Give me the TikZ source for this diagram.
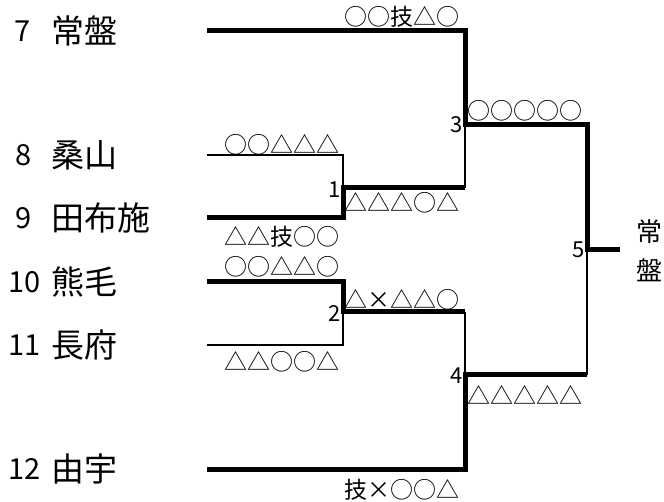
\documentclass[tikz,border=0pt]{standalone}
\usepackage{fontspec}
\setmainfont{Noto Sans CJK JP}
\usetikzlibrary{positioning, calc}

\begin{document}
\begin{tikzpicture}[x=1pt, y=-1pt,
    team/.style={anchor=west, inner sep=0pt, font=\fontsize{33}{33}\selectfont},
    seed/.style={anchor=west, inner sep=0pt, font=\fontsize{29}{29}\selectfont},
    score/.style={inner sep=0pt, font=\fontsize{23}{23}\selectfont},
    mnum/.style={inner sep=0pt, font=\fontsize{22}{22}\selectfont},
    win/.style={line width=5pt},
    lose/.style={line width=1.5pt}]
  \useasboundingbox (0,0) rectangle (664,502);

  \node[seed] (n7) at (14,31) {7};
  \node[seed] (n8) at (15,155) {8};
  \node[seed] (n9) at (15,218) {9};
  \node[seed] (n10) at (8,282) {10};
  \node[seed] (n11) at (8,345) {11};
  \node[seed] (n12) at (8,469) {12};
  \node[team] (t7) at (51,31) {常盤};
  \node[team] (t8) at (51,155) {桑山};
  \node[team] (t9) at (51,218) {田布施};
  \node[team] (t10) at (51,282) {熊毛};
  \node[team] (t11) at (51,345) {長府};
  \node[team] (t12) at (51,469) {由宇};

  \coordinate (p7) at (207,31);
  \coordinate (p8) at (207,155);
  \coordinate (p9) at (207,218);
  \coordinate (p10) at (207,282);
  \coordinate (p11) at (207,345);
  \coordinate (p12) at (207,469);
  \coordinate (m1) at (343,188);
  \coordinate (m2) at (343,312);
  \coordinate (m3) at (465,125);
  \coordinate (m4) at (465,375);
  \coordinate (m5) at (587,250);
  \coordinate (w) at (620,250);

  \draw[lose] (p8) -| (m1);
  \draw[lose] (p11) -| (m2);
  \draw[lose] (m1 -| m3) -- (m3);
  \draw[lose] (m2 -| m4) -- (m4);
  \draw[lose] (m4 -| m5) -- (m5);
  \draw[win] (p7) -| (m3) -| (m5) -- (w);
  \draw[win] (p9) -| (m1) -- (m1 -| m3);
  \draw[win] (p10) -| (m2) -- (m2 -| m4);
  \draw[win] (p12) -| (m4) -- (m4 -| m5);

  \node[mnum, anchor=east] (l1) at (341,190) {1};
  \node[mnum, anchor=east] (l2) at (341,314) {2};
  \node[mnum, anchor=east] (l3) at (463,125) {3};
  \node[mnum, anchor=east] (l4) at (463,376) {4};
  \node[mnum, anchor=east] (l5) at (585,250) {5};

  \node[score] (s7) at (402,17) {○○技△○};
  \node[score] (s8) at (282,145) {○○△△△};
  \node[score] (s9) at (282,237) {△△技○○};
  \node[score] (s10) at (282,267) {○○△△○};
  \node[score] (s11) at (282,362) {△△○○△};
  \node[score] (s12) at (402,490) {技\makebox[1em]{×}○○△};
  \node[score] (s1) at (402,203) {△△△○△};
  \node[score] (s2) at (402,300) {△\makebox[1em]{×}△△○};
  \node[score] (s3) at (525,111) {○○○○○};
  \node[score] (s4) at (525,395) {△△△△△};

  \node[inner sep=0pt, align=center, font=\fontsize{26}{39}\selectfont] (champ) at (649,251) {常\\盤};
\end{tikzpicture}
\end{document}
